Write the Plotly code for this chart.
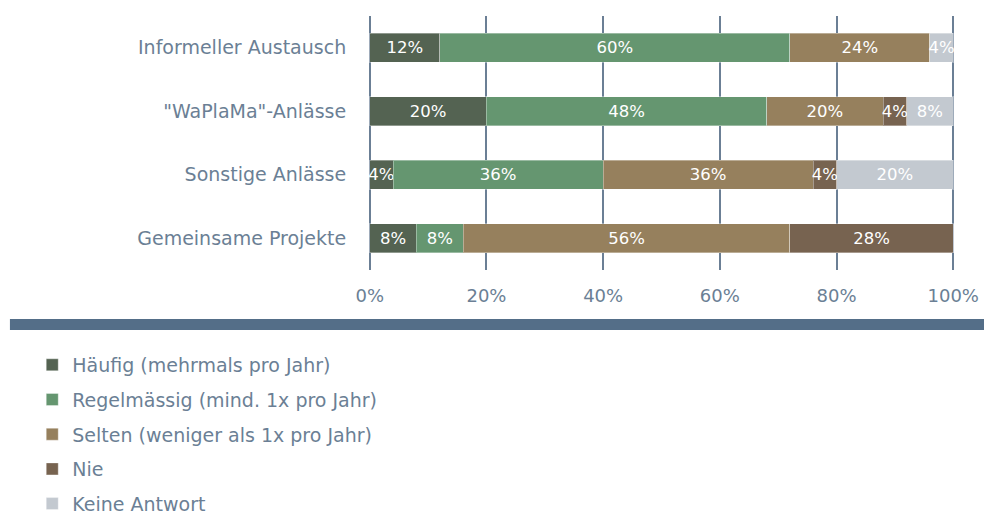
import plotly.graph_objects as go

categories = ["Informeller Austausch", "\"WaPlaMa\"-Anlässe", "Sonstige Anlässe", "Gemeinsame Projekte"]
series_names = ["Häufig (mehrmals pro Jahr)", "Regelmässig (mind. 1x pro Jahr)",
                "Selten (weniger als 1x pro Jahr)", "Nie", "Keine Antwort"]
haeufig = [12, 20, 4, 8]
regelmaessig = [60, 48, 36, 8]
selten = [24, 20, 36, 56]
nie = [0, 4, 4, 28]
keine_antwort = [4, 8, 20, 0]
colors = ["#546352", "#659670", "#96805d", "#776350", "#c3c9d0"]
tick_vals = [0, 20, 40, 60, 80, 100]
tick_text = ["0%", "20%", "40%", "60%", "80%", "100%"]

FONT = "DejaVu Sans"
TXT = "#6b7f95"
FS = 19

fig = go.Figure()
for name, vals, col in zip(series_names, [haeufig, regelmaessig, selten, nie, keine_antwort], colors):
    fig.add_trace(go.Bar(
        y=categories, x=vals, name=name, orientation="h",
        marker=dict(color=col, line=dict(color="rgba(255,255,255,0.35)", width=1)),
        text=[f"{v}%" if v > 0 else "" for v in vals],
        textposition="inside", insidetextanchor="middle", constraintext="none",
        textangle=0,
        textfont=dict(color="white", size=16.5, family=FONT),
        hoverinfo="skip", legendgroup=name,
    ))

fig.update_layout(
    barmode="stack", bargap=0.55,
    width=984, height=506,
    margin=dict(l=360, r=37, t=8, b=244, autoexpand=False),
    paper_bgcolor="white", plot_bgcolor="white",
    font=dict(family=FONT, size=FS, color=TXT),
    xaxis=dict(range=[-0.3, 100.3], tickvals=tick_vals, ticktext=tick_text,
               showgrid=True, gridcolor="#6b7f95", gridwidth=2, zeroline=False,
               showline=False, ticks="outside", ticklen=9, tickcolor="rgba(0,0,0,0)",
               tickfont=dict(size=18, color=TXT, family=FONT), automargin=False),
    yaxis=dict(autorange="reversed", showgrid=False, ticks="outside", ticklen=17,
               tickcolor="rgba(0,0,0,0)", tickfont=dict(size=FS, color=TXT, family=FONT),
               automargin=False),
    showlegend=True,
    legend=dict(orientation="v", x=-0.572, xanchor="left", y=-0.299, yanchor="top",
                traceorder="grouped", tracegroupgap=7,
                font=dict(size=FS, color=TXT, family=FONT),
                itemwidth=30, bgcolor="rgba(0,0,0,0)"),
    shapes=[dict(type="rect", xref="paper", yref="paper",
                 x0=-0.610, x1=1.063, y0=-0.236, y1=-0.193,
                 fillcolor="#546e88", line=dict(width=0), layer="below")],
)

fig.write_html("out.html")
